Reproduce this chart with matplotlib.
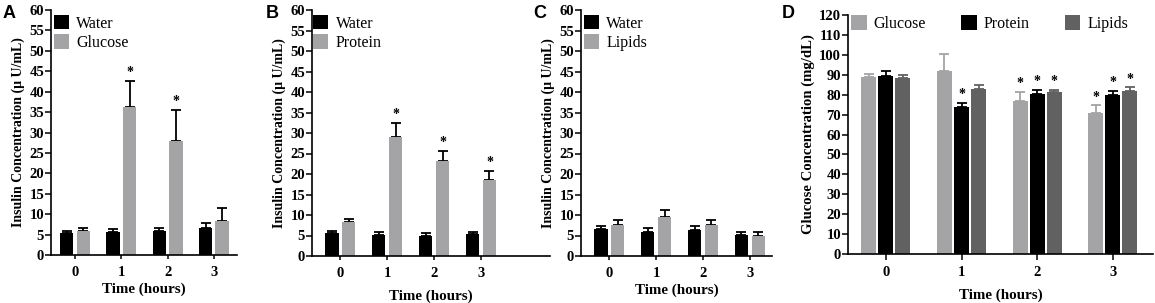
import matplotlib
matplotlib.use("Agg")
import matplotlib.pyplot as plt
import numpy as np

hours = ["0", "1", "2", "3"]

# Panel A
a_water = [5.3, 5.7, 5.8, 6.5]
a_water_err = [0.5, 0.7, 0.8, 1.3]
a_glucose = [5.9, 36.2, 27.8, 8.3]
a_glucose_err = [0.6, 6.5, 7.8, 3.1]
a_stars = [False, True, True, False]

# Panel B
b_water = [5.7, 5.2, 5.0, 5.4]
b_water_err = [0.4, 0.6, 0.6, 0.5]
b_protein = [8.3, 29.0, 23.1, 18.5]
b_protein_err = [0.8, 3.5, 2.6, 2.3]
b_stars = [False, True, True, True]

# Panel C
c_water = [6.7, 5.8, 6.3, 5.2]
c_water_err = [0.5, 1.0, 1.0, 0.7]
c_lipids = [7.6, 9.5, 7.6, 5.0]
c_lipids_err = [1.1, 1.7, 1.3, 0.9]

# Panel D
d_glucose = [88.7, 92.0, 77.0, 71.0]
d_glucose_err = [1.8, 8.3, 4.5, 3.6]
d_protein = [89.3, 73.8, 80.3, 80.0]
d_protein_err = [2.5, 2.0, 2.2, 2.0]
d_lipids = [88.5, 82.8, 81.3, 82.0]
d_lipids_err = [1.2, 1.9, 1.2, 1.6]
d_glucose_stars = [False, False, True, True]
d_protein_stars = [False, True, True, True]
d_lipids_stars = [False, False, True, True]

BLACK = "#000000"
LGRAY = "#a4a4a7"
DGRAY = "#616161"
SERIF = ["Liberation Serif", "DejaVu Serif"]
SANS = ["Liberation Sans", "DejaVu Sans"]

fig = plt.figure(figsize=(11.55, 3.03), dpi=100)


def style_axes(ax, ymax, ystep, ylabel, ylsize, xticklen, xpad, xlpad):
    for s in ["top", "right"]:
        ax.spines[s].set_visible(False)
    for s in ["left", "bottom"]:
        ax.spines[s].set_linewidth(1.2)
    ax.set_ylim(0, ymax)
    ax.set_yticks(np.arange(0, ymax + 1, ystep))
    ax.tick_params(axis="y", direction="out", length=4, width=1.1, pad=1)
    ax.tick_params(axis="x", direction="out", length=xticklen, width=1.1, pad=xpad)
    ax.set_xticks(range(4))
    ax.set_xticklabels(hours)
    for lab in ax.get_xticklabels() + ax.get_yticklabels():
        lab.set_fontfamily(SERIF)
        lab.set_fontweight("bold")
        lab.set_fontsize(10.5)
    ax.set_ylabel(ylabel, fontfamily=SERIF, fontweight="bold", fontsize=ylsize, labelpad=3)
    ax.set_xlabel("Time (hours)", fontfamily=SERIF, fontweight="bold", fontsize=10.8,
                  labelpad=xlpad)


def pair_panel(rect, xlim, water, werr, other, oerr, other_name, stars, letter, letter_x, xlpad):
    ax = fig.add_axes(rect)
    x = np.arange(len(hours))
    w = 0.29
    off = 0.18
    ax.bar(x - off, water, w, color=BLACK, label="Water", zorder=2)
    ax.bar(x + off, other, w, color=LGRAY, label=other_name, zorder=2)
    ax.errorbar(x - off, water, yerr=[np.zeros(4), werr], fmt="none", ecolor=BLACK,
                elinewidth=1.3, capsize=3.5, capthick=1.3, zorder=1)
    ax.errorbar(x + off, other, yerr=[np.zeros(4), oerr], fmt="none", ecolor=BLACK,
                elinewidth=1.3, capsize=3.5, capthick=1.3, zorder=1)
    for i, s in enumerate(stars):
        if s:
            ax.text(x[i] + off, other[i] + oerr[i] + 0.5, "*", ha="center", va="bottom",
                    fontfamily=SERIF, fontweight="bold", fontsize=10)
    ax.set_xlim(*xlim)
    style_axes(ax, 60, 5, "Insulin Concentration (\u03bc U/mL)", 10, 3, 4.8, xlpad)
    ax.legend(loc="upper left", bbox_to_anchor=(-0.035, 1.02), frameon=False,
              prop={"family": SERIF, "size": 11.5}, handlelength=0.95, handleheight=1.05,
              handletextpad=0.45, labelspacing=0.18, borderaxespad=0.2)
    fig.text(letter_x, 0.985, letter, fontfamily=SANS, fontweight="bold", fontsize=13,
             ha="left", va="top")
    return ax


pair_panel([51 / 1155, 48 / 303, 186 / 1155, 245 / 303], (-0.52, 3.5),
           a_water, a_water_err, a_glucose, a_glucose_err, "Glucose", a_stars, "A", 3 / 1155, 3)
pair_panel([312 / 1155, 47 / 303, 238 / 1155, 246 / 303], (-0.6, 4.47),
           b_water, b_water_err, b_protein, b_protein_err, "Protein", b_stars, "B", 266 / 1155, 7)
pair_panel([581 / 1155, 47 / 303, 191 / 1155, 246 / 303], (-0.6, 3.47),
           c_water, c_water_err, c_lipids, c_lipids_err, "Lipids", [False] * 4, "C", 533 / 1155, 3)

# Panel D
axd = fig.add_axes([848 / 1155, 49 / 303, 305 / 1155, 239 / 303])
x = np.arange(len(hours))
w = 0.2
off = 0.225
series = [(d_glucose, d_glucose_err, LGRAY, "Glucose", -off, d_glucose_stars),
          (d_protein, d_protein_err, BLACK, "Protein", 0.0, d_protein_stars),
          (d_lipids, d_lipids_err, DGRAY, "Lipids", off, d_lipids_stars)]
for vals, err, col, name, o, st in series:
    axd.bar(x + o, vals, w, color=col, label=name, zorder=2)
    axd.errorbar(x + o, vals, yerr=[np.zeros(4), err], fmt="none", ecolor=col,
                 elinewidth=1.3, capsize=3.5, capthick=1.3, zorder=1)
    for i, s in enumerate(st):
        if s:
            axd.text(x[i] + o, vals[i] + err[i] + 0.8, "*", ha="center", va="bottom",
                     fontfamily=SERIF, fontweight="bold", fontsize=10)
axd.set_xlim(-0.5, 3.53)
style_axes(axd, 120, 10, "Glucose Concentration (mg/dL)", 10.6, 4, 4.5, 7.3)
axd.legend(loc="upper left", bbox_to_anchor=(-0.02, 1.04), ncol=3, frameon=False,
           prop={"family": SERIF, "size": 11.5}, handlelength=0.95, handleheight=1.05,
           handletextpad=0.45, columnspacing=2.2, borderaxespad=0.2)
fig.text(782 / 1155, 0.985, "D", fontfamily=SANS, fontweight="bold", fontsize=13,
         ha="left", va="top")

fig.savefig("out.png", dpi=100)
